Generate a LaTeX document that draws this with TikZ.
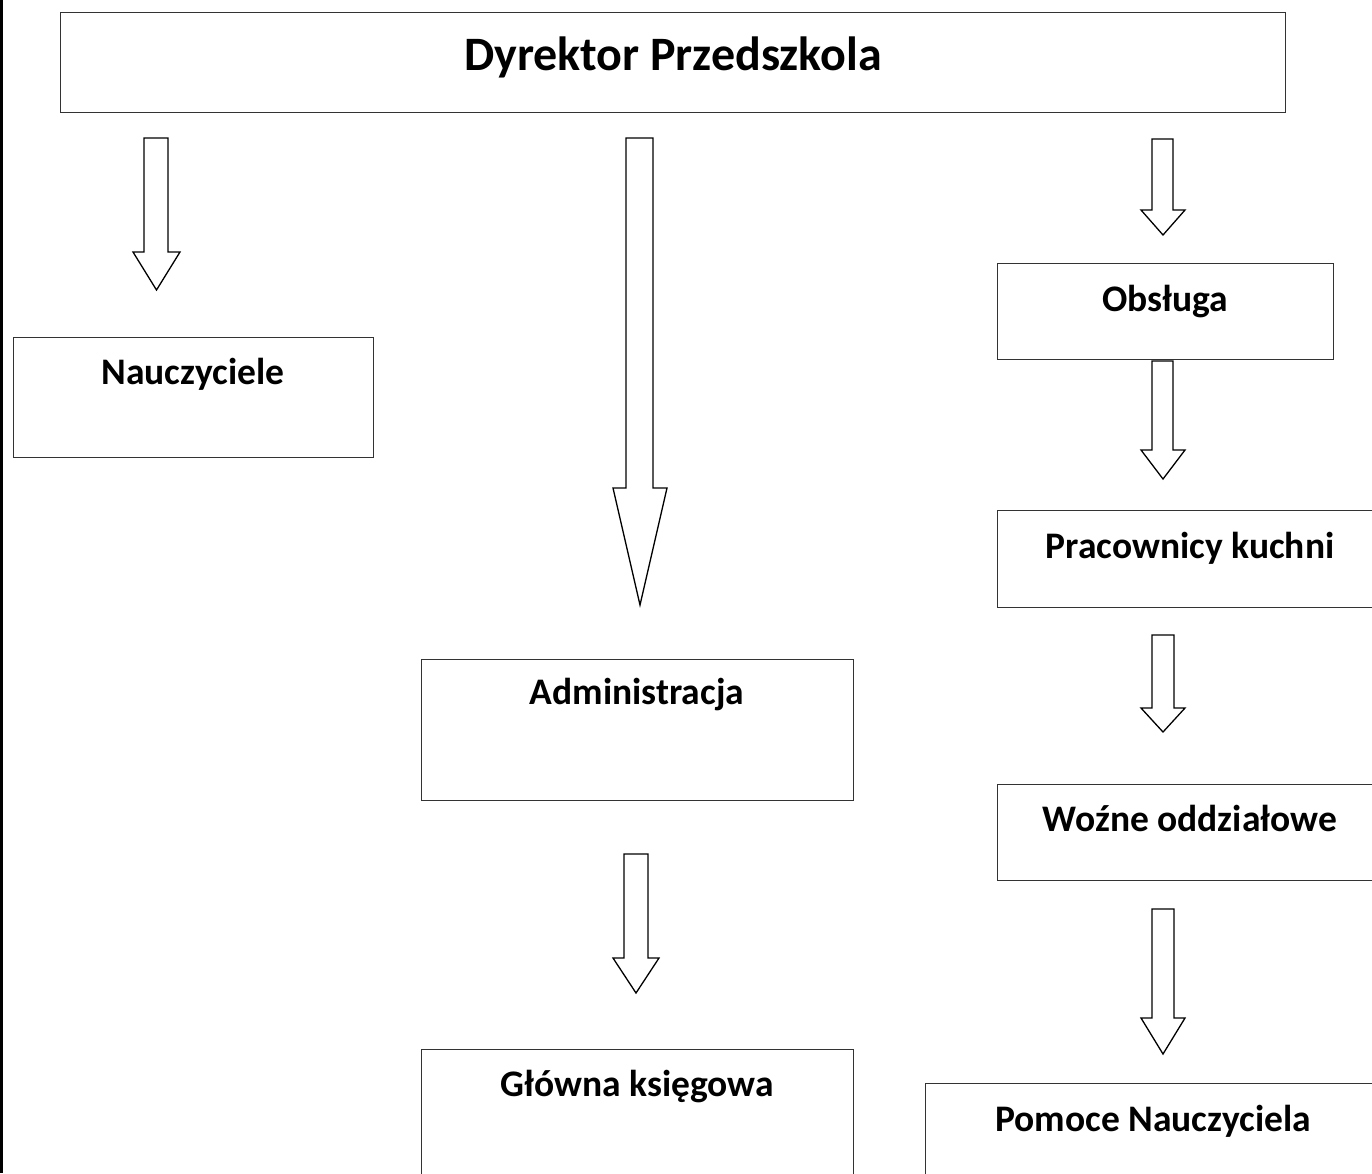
\documentclass[tikz,border=0pt]{standalone}
\usepackage{fontspec}
\setmainfont{Carlito}
\begin{document}
\begin{tikzpicture}[x=1pt,y=-1pt,
  box/.style={draw=black!80, line width=1.3pt, anchor=north west, inner sep=0pt},
  lbl/.style={font=\fontsize{37.5}{45}\selectfont\bfseries, anchor=base, inner sep=0pt},
  ttl/.style={font=\fontsize{48}{58}\selectfont\bfseries, anchor=base, inner sep=0pt},
  blockarrow/.style={draw=black, line width=1.3pt, line join=miter, fill=white}]
\useasboundingbox (0,0) rectangle (1372,1173);
\clip (0,0) rectangle (1372,1173);
\newcommand\barrow[7]{% shaft x1, x2, top, head y, head x1, head x2, tip y
  \draw[blockarrow] (#1,#3) -- (#2,#3) -- (#2,#4) -- (#6,#4) -- ({(#5+#6)/2},#7) -- (#5,#4) -- (#1,#4) -- cycle;}
% page border
\draw[line width=3pt] (1.5,0) -- (1.5,1173);
% boxes
\node[box, minimum width=1225pt, minimum height=100pt] (dyr) at (60,12) {};
\node[box, minimum width=360pt, minimum height=120pt] (nau) at (13,337) {};
\node[box, minimum width=336pt, minimum height=96pt] (obs) at (997,263) {};
\node[box, minimum width=386pt, minimum height=97pt] (kuch) at (997,510) {};
\node[box, minimum width=386pt, minimum height=96pt] (woz) at (997,784) {};
\node[box, minimum width=432pt, minimum height=141pt] (adm) at (421,659) {};
\node[box, minimum width=432pt, minimum height=140pt] (glo) at (421,1049) {};
\node[box, minimum width=456pt, minimum height=110pt] (pom) at (925,1083) {};
% labels
\node[ttl] (tdyr) at (673,70) {Dyrektor Przedszkola};
\node[lbl] (tnau) at (193,384) {Nauczyciele};
\node[lbl] (tobs) at (1165,311) {Obsługa};
\node[lbl] (tkuch) at (1190,558) {Pracownicy kuchni};
\node[lbl] (twoz) at (1190,831) {Woźne oddziałowe};
\node[lbl] (tadm) at (637,704) {Administracja};
\node[lbl] (tglo) at (637,1096) {Główna księgowa};
\node[lbl] (tpom) at (1153,1131) {Pomoce Nauczyciela};
% block arrows
\barrow{144}{168}{138}{252}{133}{180}{290}
\barrow{626}{653}{138}{488}{613}{667}{605}
\barrow{1152}{1173}{139}{210}{1141}{1185}{235}
\barrow{1152}{1173}{361}{450}{1141}{1185}{479}
\barrow{1152}{1174}{635}{708}{1141}{1185}{732}
\barrow{1152}{1174}{909}{1018}{1141}{1185}{1054}
\barrow{624}{648}{854}{958}{613}{659}{993}
\end{tikzpicture}
\end{document}
